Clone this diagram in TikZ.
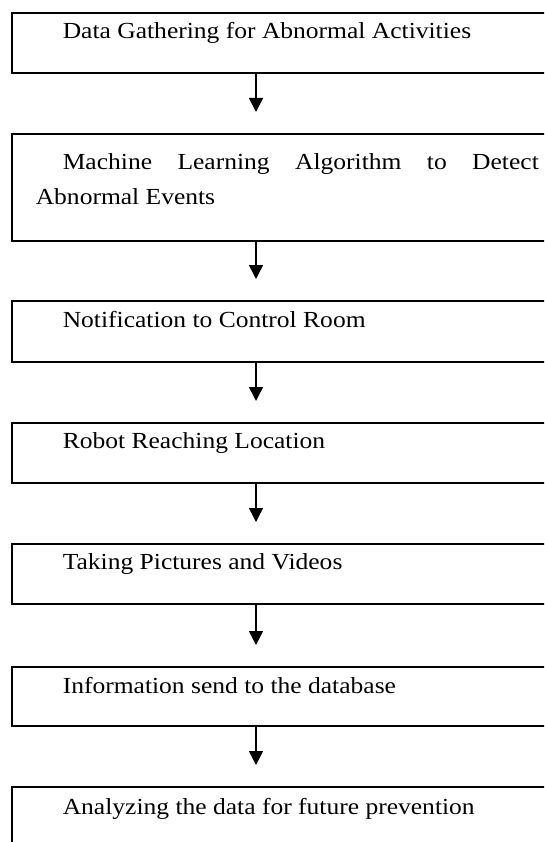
\documentclass[tikz,border=0pt]{standalone}
\usepackage{fontspec}
\setmainfont[FakeStretch=1.11]{Liberation Serif}
\usetikzlibrary{arrows.meta}

\begin{document}
\begin{tikzpicture}[x=1pt, y=-1pt,
        stepbox/.style={draw, line width=1.6pt, anchor=north west, inner xsep=24pt, inner ysep=0pt,
            text width=503pt, align=justify, text height=26pt, text depth=34pt,
            font=\fontsize{23}{35}\selectfont},
        flow/.style={line width=1.5pt, -{Triangle[width=14pt,length=14pt]}}]
        \path[use as bounding box, clip] (0,0) rectangle (544,842);
        \fill[white] (0,0) rectangle (544,842);
        \node[stepbox, text height=25.5pt, text depth=34.5pt] (gather) at (11,12) {\hspace*{27pt}Data Gathering for Abnormal Activities};
        \node[stepbox, text height=36pt, text depth=71pt] (detect) at (11,133) {\hspace*{27pt}Machine Learning Algorithm to Detect\linebreak Abnormal Events};
        \node[stepbox, text height=27pt] (notify) at (11,300) {\hspace*{27pt}Notification to Control Room};
        \node[stepbox] (reach) at (11,422) {\hspace*{27pt}Robot Reaching Location};
        \node[stepbox, text height=25.5pt, text depth=34.5pt] (capture) at (11,543) {\hspace*{27pt}Taking Pictures and Videos};
        \node[stepbox, text height=27pt, text depth=32pt] (store) at (11,666) {\hspace*{27pt}Information send to the database};
        \node[stepbox, text height=28pt, text depth=32pt] (analyze) at (11,786) {\hspace*{27pt}Analyzing the data for future prevention};
        % arrows between the steps
        \foreach \a/\b in {gather/detect, detect/notify, notify/reach, reach/capture, capture/store, store/analyze} {
            \draw[flow] ([xshift=245pt]\a.south west) -- ([xshift=245pt, yshift=21pt]\b.north west);
        }
    \end{tikzpicture}
\end{document}
